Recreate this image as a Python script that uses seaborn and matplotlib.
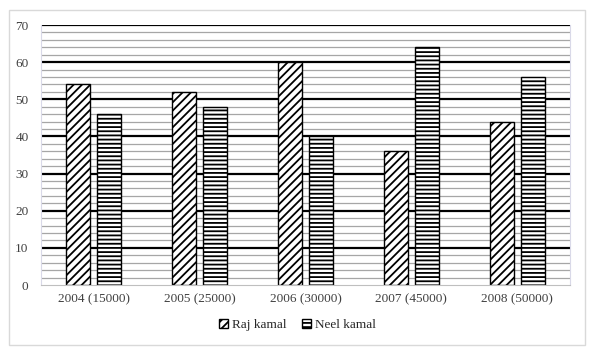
import matplotlib
matplotlib.use('Agg')
import matplotlib.pyplot as plt
import pandas as pd
import seaborn as sns
from matplotlib.patches import Rectangle, Patch

# Chart data
years       = ['2004 (15000)', '2005 (25000)', '2006 (30000)', '2007 (45000)', '2008 (50000)']
raj_kamal   = [54, 52, 60, 36, 44]
neel_kamal  = [46, 48, 40, 64, 56]
series      = ['Raj kamal', 'Neel kamal']
hatches     = ['////', '----']

df = pd.DataFrame({
    'year'  : years * 2,
    'value' : raj_kamal + neel_kamal,
    'name'  : [series[0]] * len(years) + [series[1]] * len(years),
})

sns.set_style('white')
plt.rcParams['font.family'] = ['Liberation Serif', 'DejaVu Serif']
plt.rcParams['hatch.linewidth'] = 1.3

fig = plt.figure(figsize = (5.95, 3.53), dpi = 100)
ax  = fig.add_axes([41 / 595, 1 - 285 / 353, (570 - 41) / 595, (285 - 25) / 353])

# Grid lines: thin grey every 2, thick black every 10
for y in range(2, 71, 2):
    if y % 10 == 0:
        ax.axhline(y, color = 'black', lw = 1.6, zorder = 0)
    else:
        ax.axhline(y, color = '#a6a6a6', lw = 0.9, zorder = 0)

sns.barplot(data      = df,
            x         = 'year',
            y         = 'value',
            hue       = 'name',
            width     = 0.586,
            gap       = 0.225,
            palette   = ['white', 'white'],
            edgecolor = 'black',
            linewidth = 1.0,
            legend    = False,
            ax        = ax,
            zorder    = 2)

for container, hatch in zip(ax.containers, hatches):
    for bar in container:
        bar.set_hatch(hatch)

ax.set_ylim(0, 70)
ax.set_xlim(-0.5, len(years) - 0.5)
ax.set_yticks(range(0, 71, 10))
ax.set_xlabel('')
ax.set_ylabel('')
ax.tick_params(axis = 'both', length = 0, labelsize = 9.5, colors = '#404040')
ax.tick_params(axis = 'y', pad = 9)
ax.tick_params(axis = 'x', pad = 6)

ax.spines['top'].set_visible(False)
ax.spines['left'].set_color('#d9d9e8')
ax.spines['right'].set_color('#d9d9e8')
ax.spines['bottom'].set_color('#bfbfbf')

handles = [Patch(facecolor = 'white', edgecolor = 'black', hatch = h, label = s)
           for s, h in zip(series, hatches)]
fig.legend(handles        = handles,
           loc            = 'center',
           bbox_to_anchor = (0.5, 1 - 325 / 353),
           ncols          = 2,
           frameon        = False,
           fontsize       = 9.5,
           handlelength   = 0.7,
           handleheight   = 0.7,
           handletextpad  = 0.3,
           columnspacing  = 1.2)

# Outer chart border
fig.patches.append(Rectangle((9 / 595, 1 - 345 / 353), (585 - 9) / 595, (345 - 10) / 353,
                             transform = fig.transFigure, fill = False,
                             edgecolor = '#d9d9d9', lw = 1.0))

fig.savefig('out.png', dpi = 100)
